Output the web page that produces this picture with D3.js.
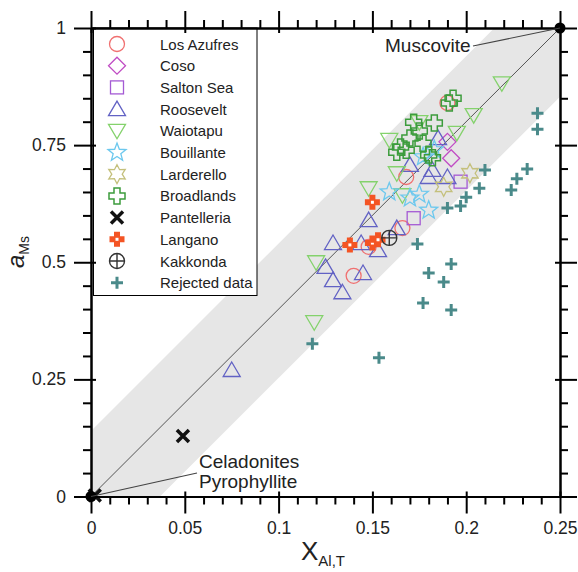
<!DOCTYPE html>
<html>
<head>
<meta charset="utf-8">
<script src="https://cdn.jsdelivr.net/npm/d3@7"></script>
<style>
  body { margin: 0; background: #fff; }
  svg { font-family: "Liberation Sans", Arial, sans-serif; }
</style>
</head>
<body>
<svg width="578" height="572"></svg>
<script>
// data: [X_Al,T, a_Ms]
let losAzufres = [[0.190,0.840],[0.168,0.682],[0.166,0.573],[0.148,0.533],[0.140,0.471]];
let coso       = [[0.190,0.757],[0.192,0.722]];
let saltonSea  = [[0.197,0.672],[0.172,0.594]];
let roosevelt  = [[0.075,0.270],[0.125,0.490],[0.129,0.462],[0.134,0.436],[0.145,0.477],
                  [0.129,0.541],[0.144,0.541],[0.153,0.526],[0.148,0.590],[0.163,0.573],
                  [0.170,0.708],[0.180,0.682],[0.182,0.697],[0.185,0.765],[0.190,0.682]];
let waiotapu   = [[0.219,0.882],[0.204,0.814],[0.195,0.776],[0.175,0.799],[0.159,0.761],
                  [0.163,0.690],[0.148,0.658],[0.166,0.643],[0.120,0.500],[0.119,0.372]];
let bouillante = [[0.159,0.650],[0.170,0.637],[0.175,0.645],[0.180,0.611],[0.177,0.725],[0.183,0.740]];
let larderello = [[0.202,0.690],[0.188,0.661]];
let broadlands = [[0.191,0.840],[0.193,0.850],[0.172,0.799],[0.183,0.797],[0.170,0.765],
                  [0.165,0.746],[0.177,0.754],[0.163,0.735],[0.168,0.739],[0.182,0.723],
                  [0.180,0.729],[0.175,0.780]];
let pantelleria = [[0.002,0.002],[0.049,0.129]];
let langano    = [[0.150,0.628],[0.138,0.537],[0.150,0.541],[0.153,0.548]];
let kakkonda   = [[0.159,0.552]];
let rejected   = [[0.238,0.818],[0.238,0.784],[0.210,0.697],[0.2325,0.699],[0.227,0.678],
                  [0.207,0.658],[0.224,0.654],[0.200,0.639],[0.197,0.620],[0.190,0.616],
                  [0.174,0.539],[0.192,0.496],[0.180,0.477],[0.188,0.458],[0.177,0.413],
                  [0.192,0.398],[0.118,0.326],[0.1535,0.296]];

// end members and the +/- band around the 1:1 line
let endMembers = [[0,0],[0.25,1]];
let bandUpper = 0.14, bandLower = 0.147;

let xMajor = [0, 0.05, 0.1, 0.15, 0.2, 0.25];
let yMajor = [0, 0.25, 0.5, 0.75, 1];

let series = [
  {name: "Los Azufres",   pts: losAzufres,  shape: "circle",   col: "#f07070"},
  {name: "Coso",          pts: coso,        shape: "diamond",  col: "#c04cc4"},
  {name: "Salton Sea",    pts: saltonSea,   shape: "square",   col: "#a45ad4"},
  {name: "Roosevelt",     pts: roosevelt,   shape: "triUp",    col: "#6262c4"},
  {name: "Waiotapu",      pts: waiotapu,    shape: "triDown",  col: "#84d26c"},
  {name: "Bouillante",    pts: bouillante,  shape: "star5",    col: "#6cc8ee"},
  {name: "Larderello",    pts: larderello,  shape: "star6",    col: "#c4c07c"},
  {name: "Broadlands",    pts: broadlands,  shape: "crossO",   col: "#3c9c3c"},
  {name: "Pantelleria",   pts: pantelleria, shape: "x",        col: "#111"},
  {name: "Langano",       pts: langano,     shape: "crossF",   col: "#f45424"},
  {name: "Kakkonda",      pts: kakkonda,    shape: "kak",      col: "#333"},
  {name: "Rejected data", pts: rejected,    shape: "plus",     col: "#4a8a8a"}
];

let svg = d3.select("svg");

let x = d3.scaleLinear().domain([0, 0.25]).range([91, 560]);
let y = d3.scaleLinear().domain([0, 1]).range([496.5, 28]);

// band
let band = [[0, bandUpper], [(1 - bandUpper) / 4, 1], [0.25, 1],
            [0.25, 1 - bandLower], [bandLower / 4, 0], [0, 0]];
svg.append("path")
  .attr("d", d3.line().x(d => x(d[0])).y(d => y(d[1]))(band) + "Z")
  .attr("fill", "#e6e6e6");

// 1:1 line
svg.append("line")
  .attr("x1", x(0)).attr("y1", y(0))
  .attr("x2", x(0.25)).attr("y2", y(1))
  .attr("stroke", "#555").attr("stroke-width", 1);

function drawShape(g, shape, col) {
  let sw = 1.3;
  switch (shape) {
    case "circle":
      g.append("circle").attr("r", 7.5).attr("fill", "none").attr("stroke", col).attr("stroke-width", sw);
      break;
    case "diamond":
      g.append("path").attr("d", "M0,-8.5L8.5,0L0,8.5L-8.5,0Z").attr("fill", "none").attr("stroke", col).attr("stroke-width", sw);
      break;
    case "square":
      g.append("rect").attr("x", -6.5).attr("y", -6.5).attr("width", 13).attr("height", 13)
        .attr("fill", "none").attr("stroke", col).attr("stroke-width", sw);
      break;
    case "triUp":
      g.append("path").attr("d", "M0,-8L8.5,6.5L-8.5,6.5Z").attr("fill", "none").attr("stroke", col).attr("stroke-width", sw);
      break;
    case "triDown":
      g.append("path").attr("d", "M-8.5,-6.5L8.5,-6.5L0,8Z").attr("fill", "none").attr("stroke", col).attr("stroke-width", sw);
      break;
    case "star5": {
      let p = d3.range(10).map(i => {
        let r = i % 2 ? 4 : 9.5, a = Math.PI * i / 5 - Math.PI / 2;
        return [r * Math.cos(a), r * Math.sin(a)];
      });
      g.append("path").attr("d", "M" + p.join("L") + "Z").attr("fill", "none").attr("stroke", col).attr("stroke-width", sw);
      break;
    }
    case "star6": {
      let p = d3.range(12).map(i => {
        let r = i % 2 ? 5.2 : 9.5, a = Math.PI * i / 6 - Math.PI / 2;
        return [r * Math.cos(a), r * Math.sin(a)];
      });
      g.append("path").attr("d", "M" + p.join("L") + "Z").attr("fill", "none").attr("stroke", col).attr("stroke-width", sw);
      break;
    }
    case "crossO":
      g.append("path").attr("d", "M-3,-8H3V-3H8V3H3V8H-3V3H-8V-3H-3Z")
        .attr("fill", "none").attr("stroke", col).attr("stroke-width", 1.5);
      break;
    case "x":
      g.append("path").attr("d", "M-6,-6L6,6M6,-6L-6,6").attr("stroke", col).attr("stroke-width", 3.5);
      break;
    case "crossF":
      g.append("path").attr("d", "M-3,-7.5H3V-3H7.5V3H3V7.5H-3V3H-7.5V-3H-3Z").attr("fill", col);
      g.append("rect").attr("x", -1.5).attr("y", -1.5).attr("width", 3).attr("height", 3).attr("fill", "#fff");
      break;
    case "kak":
      g.append("circle").attr("r", 7.5).attr("fill", "none").attr("stroke", col).attr("stroke-width", 1.4);
      g.append("path").attr("d", "M-7.5,0H7.5M0,-7.5V7.5").attr("stroke", col).attr("stroke-width", 1.4);
      break;
    case "plus":
      g.append("path").attr("d", "M-6,0H6M0,-6V6").attr("stroke", col).attr("stroke-width", 3);
      break;
  }
}

// points: rejected first, then the rest in legend order
let order = [series[11]].concat(series.slice(0, 11));
order.forEach(s => {
  svg.append("g").selectAll("g")
    .data(s.pts)
    .enter().append("g")
      .attr("transform", d => `translate(${x(d[0])},${y(d[1])})`)
      .each(function() { drawShape(d3.select(this), s.shape, s.col); });
});

// end member dots
svg.selectAll(".em")
  .data(endMembers)
  .enter().append("circle")
    .attr("class", "em")
    .attr("cx", d => x(d[0])).attr("cy", d => y(d[1]))
    .attr("r", 5.5).attr("fill", "#000");

// legend
let leg = svg.append("g");
leg.append("rect")
  .attr("x", 93.5).attr("y", 28).attr("width", 163.5).attr("height", 267.5)
  .attr("fill", "#fff").attr("stroke", "#000").attr("stroke-width", 1);
series.forEach((s, i) => {
  let row = leg.append("g").attr("transform", `translate(117,${44 + i * 21.7})`);
  drawShape(row, s.shape, s.col);
  row.append("text").attr("x", 43).attr("y", 5.5)
    .attr("font-size", 15).attr("fill", "#222").text(s.name);
});

// axes
let fmt = d => String(d);
let xMinor = d3.range(0, 26).map(i => i / 100).filter(v => Math.round(v * 100) % 5 !== 0);
let yMinor = d3.range(0, 21).map(i => i / 20).filter(v => Math.round(v * 20) % 5 !== 0);

function axis(fn, scale, tr, minor, major, labels, inner) {
  let g = svg.append("g").attr("transform", tr);
  g.call(fn(scale).tickValues(minor).tickSize(8).tickSizeOuter(0).tickFormat(""));
  let gm = svg.append("g").attr("transform", tr);
  gm.call(fn(scale).tickValues(major).tickSize(17).tickSizeOuter(0).tickPadding(labels ? 8 : 0)
    .tickFormat(labels ? fmt : ""));
  gm.selectAll(".tick line").attr(inner[0], inner[1]);
  [g, gm].forEach(a => {
    a.selectAll("path.domain").attr("stroke", "#000").attr("stroke-width", 2);
    a.selectAll(".tick line").attr("stroke", "#000").attr("stroke-width", 2);
    a.selectAll("text").attr("font-size", 17.5).attr("fill", "#222")
      .attr("font-family", "Liberation Sans, Arial, sans-serif");
  });
}
axis(d3.axisBottom, x, `translate(0,${y(0)})`, xMinor, xMajor, true, ["y1", -5]);
axis(d3.axisTop, x, `translate(0,${y(1)})`, xMinor, xMajor, false, ["y1", 5]);
axis(d3.axisLeft, y, `translate(${x(0)},0)`, yMinor, yMajor, true, ["x1", 5]);
axis(d3.axisRight, y, `translate(${x(0.25)},0)`, yMinor, yMajor, false, ["x1", -5]);

// axis titles
let xt = svg.append("text").attr("x", 301).attr("y", 560).attr("fill", "#222");
xt.append("tspan").attr("font-size", 26).text("X");
xt.append("tspan").attr("font-size", 15).attr("dy", 6).text("Al,T");

let yt = svg.append("text").attr("transform", "translate(24,268) rotate(-90)").attr("fill", "#222");
yt.append("tspan").attr("font-size", 24).attr("font-style", "italic").text("a");
yt.append("tspan").attr("font-size", 14).attr("dy", 5).text("Ms");

// annotations
svg.append("text").attr("x", 385).attr("y", 52).attr("font-size", 19).attr("fill", "#222").text("Muscovite");
svg.append("line").attr("x1", 473).attr("y1", 46).attr("x2", x(0.25)).attr("y2", y(1))
  .attr("stroke", "#444").attr("stroke-width", 1.2);
svg.append("text").attr("x", 199).attr("y", 468).attr("font-size", 19).attr("fill", "#222").text("Celadonites");
svg.append("text").attr("x", 199).attr("y", 488).attr("font-size", 19).attr("fill", "#222").text("Pyrophyllite");
svg.append("line").attr("x1", 197).attr("y1", 473).attr("x2", x(0)).attr("y2", y(0))
  .attr("stroke", "#444").attr("stroke-width", 1.2);
</script>
</body>
</html>
